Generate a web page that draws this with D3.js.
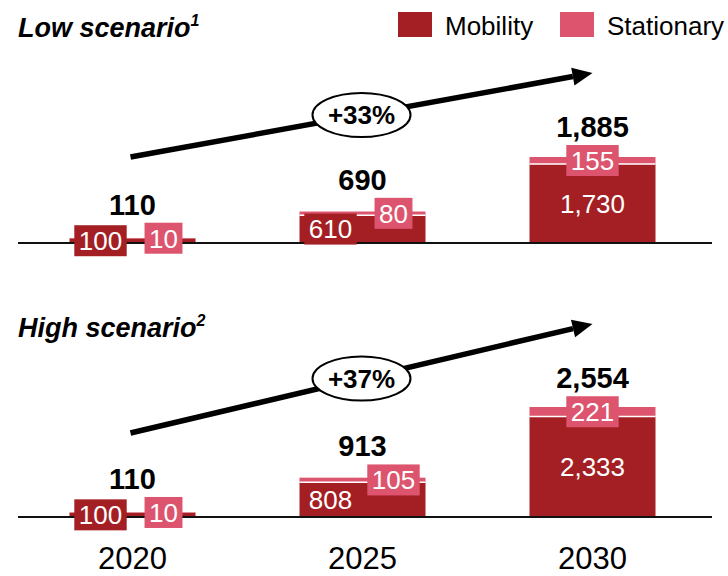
<!DOCTYPE html>
<html>
<head>
<meta charset="utf-8">
<script src="https://cdn.jsdelivr.net/npm/d3@7"></script>
<style>
  html, body { margin: 0; padding: 0; background: #fff; }
  svg { display: block; font-family: "Liberation Sans", Arial, sans-serif; }
</style>
</head>
<body>
<svg id="chart" width="728" height="576"></svg>
<script>
// Demand by segment, two scenarios
const years = ["2020", "2025", "2030"];
const lowMobility = [100, 610, 1730];
const lowStationary = [10, 80, 155];
const highMobility = [100, 808, 2333];
const highStationary = [10, 105, 221];
const growthLabels = ["+33%", "+37%"];
const scenarioTitles = ["Low scenario", "High scenario"];
const scenarioNotes = ["1", "2"];
const seriesNames = ["Mobility", "Stationary"];

const colors = { Mobility: "#A31F23", Stationary: "#DC546D" };
const fmt = d3.format(",");

const svg = d3.select("#chart");

// Layout of the two stacked panels
const panels = [
  { title: scenarioTitles[0], note: scenarioNotes[0], mob: lowMobility, sta: lowStationary,
    growth: growthLabels[0], base: 243, titleY: 37, px: 86, max: 1885,
    arrowStart: 86, arrowEnd: 170 },
  { title: scenarioTitles[1], note: scenarioNotes[1], mob: highMobility, sta: highStationary,
    growth: growthLabels[1], base: 517, titleY: 337, px: 110, max: 2554,
    arrowStart: 84, arrowEnd: 193 }
];

const x = d3.scalePoint().domain(years).range([132.5, 592.5]);
const barW = 126;
// horizontal shift of segment labels for bars too small to hold them centred
const mobLabelDx = [-32, -32, 0];
const staLabelDx = [31, 31, 0];
const boxH = 31;
const segFont = 26;

panels.forEach(p => {
  const y = d3.scaleLinear().domain([0, p.max]).range([p.base, p.base - p.px]);
  const g = svg.append("g");

  // scenario title
  const t = g.append("text").attr("x", 18).attr("y", p.titleY)
    .attr("font-size", 27).attr("font-weight", "bold").attr("font-style", "italic")
    .attr("fill", "#000").text(p.title);
  t.append("tspan").attr("font-size", 16).attr("dy", -11).text(p.note);

  // bars
  years.forEach((yr, i) => {
    const cx = x(yr);
    const m = p.mob[i], s = p.sta[i];
    const yM = y(m), yT = y(m + s);
    g.append("rect").attr("x", cx - barW / 2).attr("y", yM)
      .attr("width", barW).attr("height", p.base - yM).attr("fill", colors.Mobility);
    g.append("rect").attr("x", cx - barW / 2).attr("y", yT)
      .attr("width", barW).attr("height", yM - yT).attr("fill", colors.Stationary);
    if (yM - yT > 2) {
      g.append("line").attr("x1", cx - barW / 2).attr("x2", cx + barW / 2)
        .attr("y1", yM).attr("y2", yM).attr("stroke", "#fff").attr("stroke-width", 1.5);
    }
  });

  // baseline
  g.append("line").attr("x1", 18).attr("x2", 712).attr("y1", p.base).attr("y2", p.base)
    .attr("stroke", "#111").attr("stroke-width", 2);

  // segment labels
  years.forEach((yr, i) => {
    const cx = x(yr);
    const m = p.mob[i], s = p.sta[i];
    const yM = y(m), yT = y(m + s);

    // mobility
    const mH = p.base - yM;
    const mCy = (yM + p.base) / 2;
    const mx = cx + mobLabelDx[i];
    const mg = g.append("g");
    const mt = mg.append("text").attr("x", mx).attr("y", mCy + 9.3)
      .attr("text-anchor", "middle").attr("font-size", segFont).attr("fill", "#fff").text(fmt(m));
    if (mH < boxH) {
      const w = mt.node().getComputedTextLength() + 9;
      mg.insert("rect", "text").attr("x", mx - w / 2).attr("y", mCy - boxH / 2)
        .attr("width", w).attr("height", boxH).attr("fill", colors.Mobility);
    }

    // stationary
    const sCy = (yT + yM) / 2;
    const sx = cx + staLabelDx[i];
    const sg = g.append("g");
    const st = sg.append("text").attr("x", sx).attr("y", sCy + 9.3)
      .attr("text-anchor", "middle").attr("font-size", segFont).attr("fill", "#fff").text(fmt(s));
    const sw = st.node().getComputedTextLength() + 9;
    sg.insert("rect", "text").attr("x", sx - sw / 2).attr("y", sCy - boxH / 2)
      .attr("width", sw).attr("height", boxH).attr("fill", colors.Stationary);

    // total
    g.append("text").attr("x", cx).attr("y", sCy - 23.5)
      .attr("text-anchor", "middle").attr("font-size", 29).attr("font-weight", "bold")
      .attr("fill", "#000").text(fmt(m + s));
  });

  // growth arrow
  const x0 = x(years[0]) - 2, x1 = x(years[years.length - 1]);
  const y0 = p.base - p.arrowStart, y1 = p.base - p.arrowEnd;
  const ang = Math.atan2(y1 - y0, x1 - x0);
  const headL = 20, headW = 9;
  const bx = x1 - headL * Math.cos(ang), by = y1 - headL * Math.sin(ang);
  g.append("line").attr("x1", x0).attr("y1", y0).attr("x2", bx).attr("y2", by)
    .attr("stroke", "#000").attr("stroke-width", 5.5);
  const nx = -Math.sin(ang), ny = Math.cos(ang);
  g.append("path")
    .attr("d", `M${x1},${y1}L${bx + nx * headW},${by + ny * headW}L${bx - nx * headW},${by - ny * headW}Z`)
    .attr("fill", "#000");

  const ex = (x0 + x1) / 2, ey = (y0 + y1) / 2;
  g.append("ellipse").attr("cx", ex).attr("cy", ey).attr("rx", 49).attr("ry", 22)
    .attr("fill", "#fff").attr("stroke", "#000").attr("stroke-width", 2);
  g.append("text").attr("x", ex).attr("y", ey + 9).attr("text-anchor", "middle")
    .attr("font-size", 26).attr("font-weight", "bold").attr("fill", "#000").text(p.growth);
});

// year axis
svg.append("g").selectAll("text").data(years).join("text")
  .attr("x", d => x(d)).attr("y", 569).attr("text-anchor", "middle")
  .attr("font-size", 31).attr("fill", "#000").text(d => d);

// legend
const legendX = [398, 560];
const lg = svg.append("g");
seriesNames.forEach((name, i) => {
  lg.append("rect").attr("x", legendX[i]).attr("y", 12).attr("width", 34).attr("height", 25)
    .attr("fill", colors[name]);
  lg.append("text").attr("x", legendX[i] + 47).attr("y", 35).attr("font-size", 26)
    .attr("fill", "#000").text(name);
});
</script>
</body>
</html>
